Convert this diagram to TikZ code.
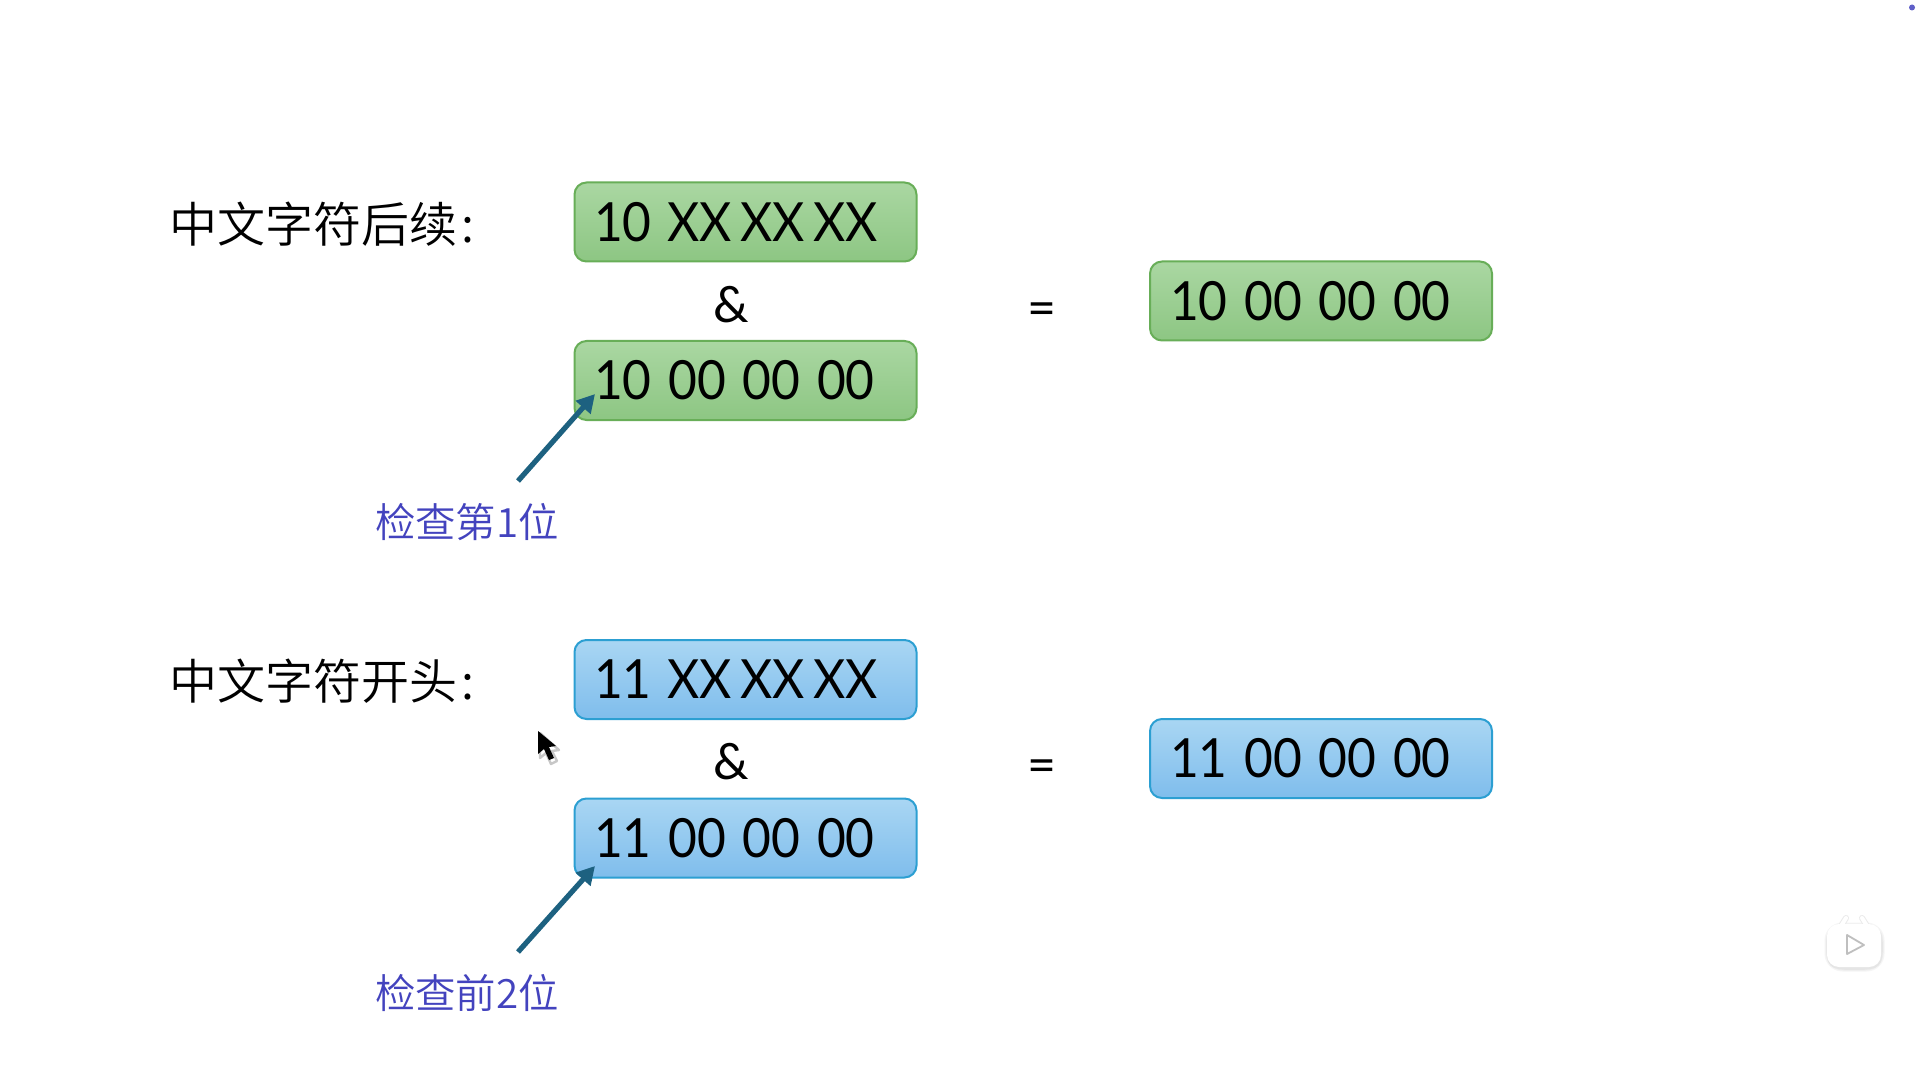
\documentclass[tikz,border=0pt]{standalone}
\usepackage{fontspec}
\usetikzlibrary{arrows.meta}
\setmainfont{Noto Sans CJK SC DemiLight}
\newfontfamily\numfont[FakeStretch=0.92]{Lato}
\newfontfamily\opfont{Lato}
\definecolor{gtop}{HTML}{AAD7A2}
\definecolor{gbot}{HTML}{8DC683}
\definecolor{gedge}{HTML}{68AE58}
\definecolor{btop}{HTML}{A9D6F3}
\definecolor{bbot}{HTML}{7FBDEC}
\definecolor{bedge}{HTML}{2C9FD2}
\definecolor{arrowc}{HTML}{1D6180}
\definecolor{noteblue}{HTML}{4343BE}
\tikzset{
  x=0.5pt,y=-0.5pt,
  valbox/.style={draw,rounded corners=6pt,line width=1pt,minimum width=171pt,minimum height=39.5pt,inner sep=0pt,shading=axis,shading angle=0},
  greenbox/.style={valbox,draw=gedge,top color=gtop,bottom color=gbot},
  bluebox/.style={valbox,draw=bedge,top color=btop,bottom color=bbot},
  val/.style={font=\numfont\fontsize{27}{27}\selectfont,anchor=west,text=black},
  heading/.style={font=\fontsize{24}{24}\selectfont,anchor=west,text=black},
  opsym/.style={font=\opfont\fontsize{25}{25}\selectfont,text=black},
  note/.style={font=\fontsize{20.2}{20.2}\selectfont,text=noteblue},
  pointer/.style={draw=arrowc,line width=2.6pt,-{Triangle[length=9pt,width=9.5pt]}},
}
\newcommand{\spc}{\hspace{0.31em}}
\newcommand{\spf}{\hspace{0.29em}}
\newcommand{\spx}{\hspace{0.155em}}
\begin{document}
\begin{tikzpicture}
\useasboundingbox (0,0) rectangle (1920,1080);
\fill[white] (0,0) rectangle (1920,1080);

% upper group
\node[heading] (h1) at (162,224) {中文字符后续\hspace{0.1em}:};
\node[greenbox] (a1) at (745.5,222) {};
\node[val] (a1t) at (587,222) {10\spf XX\spx XX\spx XX};
\node[opsym] (and1) at (731,305) {\&};
\node[greenbox] (a2) at (745.5,380.5) {};
\node[val] (a2t) at (587,380.5) {10\spc 00\spc 00\spc 00};
\node[opsym] (eq1) at (1042,314) {=};
\node[greenbox] (a3) at (1321,301) {};
\node[val] (a3t) at (1163,301) {10\spc 00\spc 00\spc 00};
\node[note] (n1) at (467,522) {检查第1位};
\coordinate (p1s) at (518,481);
\coordinate (p1e) at (595,394);
\draw[pointer] (p1s) -- (p1e);

% lower group
\node[heading] (h2) at (162,681) {中文字符开头\hspace{0.1em}:};
\node[bluebox] (b1) at (745.5,679.5) {};
\node[val] (b1t) at (587,679.5) {11\spf XX\spx XX\spx XX};
\node[opsym] (and2) at (731,762) {\&};
\node[bluebox] (b2) at (745.5,838) {};
\node[val] (b2t) at (587,838) {11\spc 00\spc 00\spc 00};
\node[opsym] (eq2) at (1042,771) {=};
\node[bluebox] (b3) at (1321,758.5) {};
\node[val] (b3t) at (1163,758.5) {11\spc 00\spc 00\spc 00};
\node[note] (n2) at (467,993) {检查前2位};
\coordinate (p2s) at (518,952);
\coordinate (p2e) at (595,866);
\draw[pointer] (p2s) -- (p2e);

% mouse cursor
\draw[black!22,line width=1.2pt,line join=round]
  (540,733) -- (540,758) -- (546,753) -- (551,764) -- (557,761) -- (552,751) -- (559,750) -- cycle;
\fill[black]
  (538,731) -- (538,754) -- (544,749) -- (549,760) -- (554,758) -- (549,747) -- (556,746) -- cycle;

% corner dot
\fill[noteblue!85!white] (1912,7.5) circle (3);

% play badge
\foreach \g/\d in {4/3.5,7/2.5,11/1.5}{
  \fill[black!\g,rounded corners=9pt] (1828-\d,924-\d+2) rectangle (1881+\d,967+\d+1);
}
\fill[black!10,rounded corners=6pt] (1827,926) rectangle (1882,969);
\draw[black!8,line width=3pt,line cap=round] (1841,926) -- (1846,918);
\draw[black!8,line width=3pt,line cap=round] (1867,926) -- (1862,918);
\draw[white,line width=2pt,line cap=round] (1841,926) -- (1846,918);
\draw[white,line width=2pt,line cap=round] (1867,926) -- (1862,918);
\fill[white,rounded corners=6pt] (1827,924) rectangle (1881,967);
\draw[black!25,fill=white,line width=0.9pt,line join=round] (1847,935) -- (1847,954) -- (1864,945) -- cycle;
\end{tikzpicture}
\end{document}
